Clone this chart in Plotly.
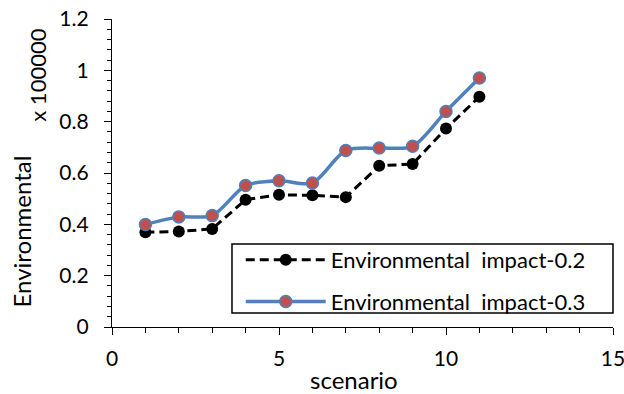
import plotly.graph_objects as go

scenario = [1, 2, 3, 4, 5, 6, 7, 8, 9, 10, 11]
impact_02 = [0.369, 0.372, 0.382, 0.496, 0.515, 0.513, 0.506, 0.628, 0.635, 0.773, 0.897]
impact_03 = [0.399, 0.429, 0.434, 0.551, 0.570, 0.561, 0.688, 0.697, 0.704, 0.840, 0.970]
names = ["Environmental  impact-0.2", "Environmental  impact-0.3"]
x_ticks = [0, 5, 10, 15]
y_ticks = [0, 0.2, 0.4, 0.6, 0.8, 1, 1.2]

FONT = "Lato"

fig = go.Figure()
fig.add_trace(go.Scatter(
    x=scenario, y=impact_02, name=names[0], mode="lines+markers",
    line=dict(color="black", width=3, dash="9px,5px"),
    marker=dict(color="black", size=12, line=dict(width=0)),
    legendgroup="a",
))
fig.add_trace(go.Scatter(
    x=scenario, y=impact_03, name=names[1], mode="lines+markers",
    line=dict(color="#4F81BD", width=3.5, shape="spline", smoothing=0.8),
    marker=dict(color="#C0504D", size=12, line=dict(color="#4F81BD", width=1.5)),
    legendgroup="b",
))

axis_common = dict(
    showgrid=False, zeroline=False, showline=True, linecolor="black", linewidth=1.3,
    ticks="outside", tickcolor="black", tickwidth=1.3, ticklen=7,
    tickfont=dict(family=FONT, size=21, color="black"),
    ticklabeloverflow="allow", automargin=False,
)
fig.update_xaxes(range=[0, 15], tickvals=x_ticks, ticktext=[str(v) for v in x_ticks],
                 minor=dict(dtick=1, ticks="outside", ticklen=5, tickcolor="black", tickwidth=1.3),
                 ticklabelstandoff=6, **axis_common)
fig.update_yaxes(range=[0, 1.2], tickvals=y_ticks, ticktext=["0", "0.2", "0.4", "0.6", "0.8", "1", "1.2"],
                 minor=dict(dtick=0.04, ticks="outside", ticklen=4, tickcolor="black", tickwidth=1.3),
                 ticklabelstandoff=11, **axis_common)

fig.add_annotation(text="scenario", xref="paper", yref="paper", x=0.483, y=-0.172,
                   xanchor="center", yanchor="middle", showarrow=False,
                   font=dict(family=FONT, size=24, color="black"))
fig.add_annotation(text="Environmental", xref="paper", yref="paper", x=-0.181, y=0.311,
                   xanchor="center", yanchor="middle", showarrow=False, textangle=-90,
                   font=dict(family=FONT, size=24, color="black"))
fig.add_annotation(text="x 100000", xref="paper", yref="paper", x=-0.149, y=0.817,
                   xanchor="center", yanchor="middle", showarrow=False, textangle=-90,
                   font=dict(family=FONT, size=22, color="black"))

# legend frame
fig.add_shape(type="rect", xref="paper", yref="paper", x0=0.2395, x1=1.0, y0=0.0455, y1=0.2695,
              line=dict(color="black", width=1.5), fillcolor="white", layer="above")

fig.update_layout(
    width=624, height=394,
    margin=dict(l=112, r=11, t=19, b=67),
    paper_bgcolor="white", plot_bgcolor="white",
    showlegend=True,
    legend=dict(x=0.257, y=0.2857, xanchor="left", yanchor="top",
                borderwidth=0, bgcolor="rgba(0,0,0,0)",
                font=dict(family=FONT, size=22, color="black"),
                tracegroupgap=10, traceorder="grouped", itemwidth=80),
)

fig.write_html("out.html")
